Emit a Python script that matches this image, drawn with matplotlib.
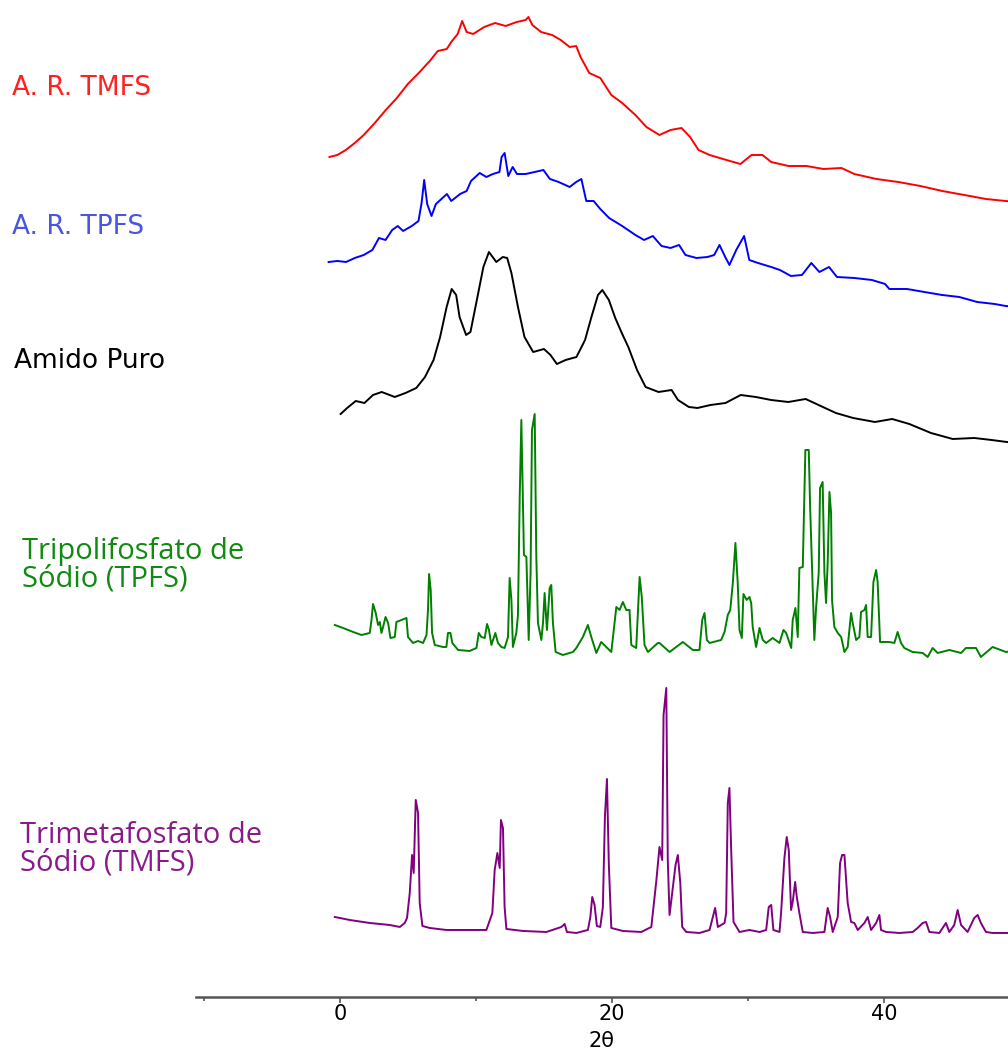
import matplotlib
matplotlib.use("Agg")
import matplotlib.pyplot as plt
import numpy as np

# A. R. TMFS (red)
tt_ar_tmfs = [-0.76, -0.18, 0.44, 1.10, 1.76, 2.57, 3.38, 4.19, 5.00, 5.80, 6.61, 7.20, 7.86,
              8.19, 8.66, 8.99, 9.32, 9.80, 10.61, 11.41, 12.19, 13.00, 13.66, 13.86, 14.15,
              14.79, 15.60, 16.23, 16.89, 17.37, 17.69, 18.33, 19.14, 19.95, 20.75, 21.72,
              22.53, 23.49, 24.30, 25.11, 25.74, 26.36, 27.17, 28.16, 29.44, 30.25, 31.06,
              31.70, 32.97, 34.29, 35.54, 36.86, 37.81, 39.43, 41.04, 42.66, 44.27, 45.89,
              47.48, 48.93, 50.0]
i_ar_tmfs = [50, 52, 57, 64, 72, 84, 97, 109, 123, 134, 146, 156, 158,
             165, 173, 186, 175, 173, 180, 184, 181, 185, 187, 190, 182,
             175, 172, 167, 160, 161, 150, 134, 129, 112, 104, 92,
             80, 72, 77, 79, 70, 57, 52, 48, 43, 52, 52,
             45, 41, 41, 38, 39, 33, 28, 25, 21, 16, 12,
             8, 6, 5]

# A. R. TPFS (blue)
tt_ar_tpfs = [-0.82, -0.18, 0.46, 1.10, 1.76, 2.39, 2.88, 3.36, 3.85, 4.26, 4.65, 5.29, 5.78,
              6.01, 6.20, 6.42, 6.74, 7.06, 7.87, 8.19, 8.84, 9.32, 9.64, 10.28, 10.77, 11.25,
              11.73, 11.89, 12.11, 12.38, 12.70, 13.02, 13.66, 14.32, 14.96, 15.44, 16.08,
              16.89, 17.37, 17.75, 18.11, 18.65, 19.14, 19.79, 20.75, 21.72, 22.36, 23.00,
              23.64, 24.30, 24.93, 25.40, 26.21, 27.02, 27.51, 27.90, 28.32, 28.63, 29.13,
              29.71, 30.09, 30.73, 31.70, 32.34, 33.15, 33.96, 34.65, 35.24, 35.95, 36.53,
              37.81, 39.10, 40.07, 40.38, 41.68, 42.95, 44.26, 45.52, 46.84, 48.12, 48.93, 50.0]
i_ar_tpfs = [58, 59, 58, 62, 65, 70, 82, 80, 90, 94, 89, 94, 99,
             117, 140, 116, 104, 116, 126, 119, 126, 129, 139, 147, 143, 146,
             148, 163, 167, 144, 153, 146, 146, 148, 150, 141, 138,
             133, 138, 141, 119, 119, 111, 102, 94, 85, 80, 84,
             74, 72, 75, 65, 62, 63, 65, 75, 63, 55, 70,
             84, 60, 57, 53, 50, 44, 45, 57, 48, 53, 43,
             42, 40, 36, 31, 31, 28, 25, 23, 18, 16, 14, 13]

# Amido Puro (black)
tt_amido = [0.06, 0.54, 1.17, 1.81, 2.44, 3.08, 4.04, 4.83, 5.62, 6.26, 6.89, 7.37, 7.85,
            8.22, 8.55, 8.80, 9.28, 9.60, 10.07, 10.55, 10.96, 11.50, 11.98, 12.30, 12.61,
            13.09, 13.57, 14.21, 15.00, 15.48, 15.95, 16.59, 17.39, 18.02, 18.49, 18.97,
            19.29, 19.77, 20.24, 20.72, 21.20, 21.84, 22.47, 23.42, 24.38, 24.85, 25.65,
            26.28, 27.24, 28.34, 29.46, 30.57, 31.69, 32.96, 34.23, 35.18, 36.45, 37.72,
            39.32, 40.59, 41.85, 43.44, 45.04, 46.62, 47.89, 49.01, 50.0]
i_amido = [46, 52, 59, 57, 65, 68, 63, 67, 72, 83, 100, 123, 153,
           171, 165, 143, 125, 128, 160, 193, 208, 198, 203, 202, 187,
           153, 123, 108, 111, 105, 96, 100, 103, 120, 143, 165,
           170, 160, 142, 127, 113, 90, 73, 68, 70, 60, 53,
           52, 55, 57, 65, 63, 60, 58, 61, 55, 47, 42,
           38, 41, 36, 27, 21, 22, 20, 18, 17]

# Tripolifosfato de Sodio (green)
tt_tpfs = [-0.37, 0.24, 0.98, 1.59, 2.20, 2.33, 2.44, 2.64, 2.81, 2.94, 3.06, 3.18, 3.36,
           3.55, 3.72, 4.04, 4.16, 4.53, 4.90, 5.01, 5.38, 5.75, 6.12, 6.37, 6.48, 6.56,
           6.68, 6.78, 6.98, 7.58, 7.83, 7.95, 8.13, 8.27, 8.57, 8.69, 9.54, 10.04, 10.21,
           10.40, 10.65, 10.82, 10.96, 11.14, 11.43, 11.62, 11.87, 12.11, 12.36, 12.48,
           12.61, 12.72, 12.97, 13.09, 13.22, 13.34, 13.53, 13.71, 13.88, 14.02, 14.12,
           14.32, 14.44, 14.56, 14.81, 14.93, 15.05, 15.22, 15.42, 15.54, 15.66, 15.86,
           16.39, 17.13, 17.38, 17.86, 18.23, 18.48, 18.85, 19.21, 19.58, 19.95, 20.32,
           20.56, 20.80, 21.05, 21.29, 21.42, 21.78, 22.03, 22.19, 22.39, 22.64, 23.37,
           23.49, 24.23, 25.21, 25.94, 26.43, 26.63, 26.80, 26.97, 27.17, 28.02, 28.27,
           28.51, 28.69, 28.88, 29.07, 29.24, 29.37, 29.54, 29.66, 29.90, 30.10, 30.23,
           30.34, 30.59, 30.84, 31.08, 31.33, 31.81, 32.31, 32.60, 32.80, 33.17, 33.28,
           33.48, 33.65, 33.77, 34.02, 34.21, 34.46, 34.56, 34.75, 34.87, 35.00, 35.19,
           35.29, 35.48, 35.61, 35.73, 35.85, 35.98, 36.10, 36.17, 36.34, 36.59, 36.84,
           37.08, 37.32, 37.57, 37.69, 37.94, 38.18, 38.30, 38.55, 38.67, 38.79, 39.04,
           39.21, 39.41, 39.52, 39.70, 40.38, 40.75, 40.99, 41.24, 41.48, 42.09, 42.83,
           43.20, 43.56, 43.93, 44.79, 45.65, 46.01, 46.75, 47.11, 47.97, 48.95, 50.0]
i_tpfs = [45, 42, 38, 35, 37, 50, 66, 57, 45, 48, 37, 43, 53,
          47, 32, 33, 48, 50, 52, 33, 27, 29, 27, 35, 60, 96,
          80, 37, 25, 23, 23, 37, 37, 27, 22, 20, 19, 22, 37,
          33, 32, 46, 40, 25, 37, 27, 23, 22, 33, 92,
          70, 23, 37, 55, 173, 250, 115, 113, 30, 98, 240,
          256, 113, 47, 30, 47, 77, 40, 82, 85, 47, 18,
          15, 18, 22, 33, 45, 33, 17, 28, 23, 18, 63,
          60, 68, 60, 60, 25, 22, 93, 73, 25, 18, 27,
          27, 18, 28, 20, 20, 50, 57, 30, 27, 30, 38,
          55, 60, 87, 127, 87, 40, 32, 76, 70, 73, 67,
          43, 23, 42, 30, 27, 32, 27, 40, 37, 22, 50,
          62, 33, 102, 103, 220, 220, 163, 83, 30, 63, 97,
          182, 188, 97, 67, 107, 178, 157, 70, 43, 37, 33,
          18, 23, 57, 47, 30, 33, 58, 60, 65, 33, 33,
          88, 100, 88, 28, 28, 27, 38, 27, 22, 18, 17,
          13, 22, 17, 20, 17, 22, 22, 13, 23, 18, 20]

# Trimetafosfato de Sodio (purple)
tt_tmfs = [-0.37, 0.73, 2.20, 3.67, 4.41, 4.77, 4.94, 5.14, 5.31, 5.43, 5.58, 5.75, 5.87,
           6.07, 6.61, 7.83, 9.54, 10.77, 11.21, 11.38, 11.58, 11.75, 11.84, 11.99, 12.11,
           12.24, 13.46, 15.18, 16.28, 16.52, 16.69, 17.38, 18.23, 18.41, 18.55, 18.72,
           18.89, 19.14, 19.33, 19.48, 19.63, 19.77, 19.95, 20.80, 22.15, 22.89, 23.25,
           23.49, 23.69, 23.79, 23.99, 24.10, 24.23, 24.52, 24.67, 24.84, 25.02, 25.16,
           25.46, 26.43, 27.17, 27.41, 27.58, 27.78, 28.27, 28.39, 28.51, 28.63, 28.76,
           28.93, 29.37, 30.10, 30.84, 31.33, 31.52, 31.70, 31.86, 32.31, 32.43, 32.67,
           32.84, 32.99, 33.16, 33.28, 33.46, 33.58, 33.77, 34.02, 34.75, 35.61, 35.85,
           36.03, 36.22, 36.59, 36.76, 36.91, 37.08, 37.32, 37.57, 37.81, 38.06, 38.55,
           38.79, 39.04, 39.41, 39.65, 39.77, 40.14, 41.12, 42.10, 42.46, 42.83, 43.08,
           43.32, 44.05, 44.54, 44.79, 45.15, 45.40, 45.65, 46.13, 46.62, 46.87, 47.11,
           47.48, 47.97, 48.95, 50.0]
i_tmfs = [33, 30, 27, 25, 23, 27, 32, 57, 95, 77, 150, 137, 47,
          24, 22, 20, 20, 20, 37, 80, 97, 82, 130, 122, 43,
          21, 19, 18, 23, 26, 18, 17, 20, 33, 53, 45,
          24, 23, 43, 133, 171, 85, 22, 19, 18, 23, 68,
          103, 90, 235, 262, 90, 35, 68, 85, 95, 67, 23,
          18, 17, 20, 33, 42, 23, 27, 37, 147, 162, 100,
          28, 18, 20, 18, 20, 43, 45, 20, 18, 38, 92,
          113, 100, 40, 48, 68, 53, 37, 18, 17, 18, 42,
          33, 18, 33, 87, 95, 95, 47, 28, 27, 20, 27,
          33, 20, 27, 35, 20, 18, 17, 18, 22, 27, 28,
          18, 17, 27, 18, 25, 40, 25, 18, 32, 35, 27,
          18, 17, 17, 17]

series = [
    (tt_ar_tmfs, i_ar_tmfs, 790, "#ff0000"),
    (tt_ar_tpfs, i_ar_tpfs, 677, "#0000ff"),
    (tt_amido, i_amido, 537, "#000000"),
    (tt_tpfs, i_tpfs, 327, "#008000"),
    (tt_tmfs, i_tmfs, 47, "#800080"),
]

fig = plt.figure(figsize=(10.08, 10.53), dpi=100)
ax = fig.add_axes([0.194, 0.0532, 0.806, 0.9468])

for tt, inten, off, col in series:
    ax.plot(tt, np.array(inten) + off, color=col, lw=1.4)

ax.set_xlim(-10.6, 49.1)
ax.set_ylim(0, 997)
for s in ["top", "right", "left"]:
    ax.spines[s].set_visible(False)
ax.spines["bottom"].set_color("#555555")
ax.spines["bottom"].set_linewidth(1.8)
ax.set_yticks([])
ax.set_xticks([0, 20, 40])
ax.set_xticks([-10, 10, 30], minor=True)
ax.tick_params(axis="x", which="both", direction="out", length=4, width=1.2,
               color="#555555", labelsize=15, pad=1)
ax.tick_params(axis="x", which="minor", length=3)
ax.set_xlabel("2θ", fontsize=15, labelpad=5)

fig.text(0.012, 0.9164, "A. R. TMFS", color="#ff2020", fontsize=19, va="center",
         family="DejaVu Sans")
fig.text(0.012, 0.7844, "A. R. TPFS", color="#4a55e0", fontsize=19, va="center",
         family="DejaVu Sans")
fig.text(0.014, 0.6572, "Amido Puro", color="black", fontsize=19, va="center",
         family="DejaVu Sans")
fig.text(0.022, 0.4634, "Tripolifosfato de\nSódio (TPFS)", color="#108a10", fontsize=21,
         va="center", family="Open Sans", linespacing=0.95)
fig.text(0.020, 0.1937, "Trimetafosfato de\nSódio (TMFS)", color="#8a1a8a", fontsize=21,
         va="center", family="Open Sans", linespacing=0.95)

fig.savefig("out.png", dpi=100)
